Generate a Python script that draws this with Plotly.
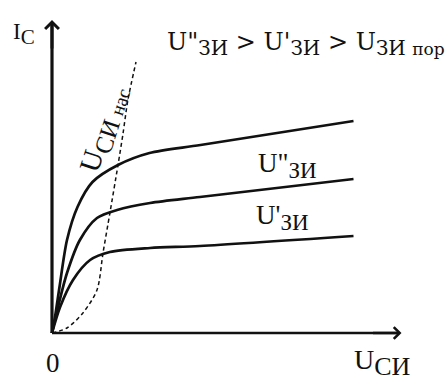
import plotly.graph_objects as go

# ---- data (U_СИ in arbitrary units, I_С in arbitrary units) ----
u_top = [0, 0.1, 0.25, 0.5, 0.85, 1.35, 2.2, 3.25, 4.95, 10.05]
i_top = [0, 0.8, 2.3, 4.65, 6.3, 7.55, 8.4, 9.0, 9.4, 10.6]

u_mid = [0, 0.2, 0.5, 0.93, 1.5, 2.17, 3.27, 4.93, 10.05]
i_mid = [0, 1.3, 3.0, 4.65, 5.75, 6.15, 6.5, 6.8, 7.7]

u_low = [0, 0.27, 0.7, 1.27, 1.93, 3.27, 4.93, 10.05]
i_low = [0, 1.3, 2.65, 3.65, 4.05, 4.25, 4.35, 4.85]

u_sat = [0, 0.5, 1.03, 1.5, 1.7, 1.93, 2.2, 2.37, 2.53, 2.8]
i_sat = [0, 0.25, 1.0, 2.15, 4.0, 6.0, 8.4, 10.0, 11.65, 13.55]

AXIS_X_END = 11.65
AXIS_Y_END = 15.65

FONT = "Liberation Serif"
TITLE_FONT = "DejaVu Serif"
BLACK = "#111111"

fig = go.Figure()
for u, i in [(u_top, i_top), (u_mid, i_mid), (u_low, i_low)]:
    fig.add_trace(go.Scatter(x=u, y=i, mode="lines",
                             line=dict(color=BLACK, width=2.7, shape="spline", smoothing=0.8),
                             hoverinfo="skip", showlegend=False))
fig.add_trace(go.Scatter(x=u_sat, y=i_sat, mode="lines",
                         line=dict(color=BLACK, width=1.5, dash="4px,3px", shape="spline", smoothing=0.8),
                         hoverinfo="skip", showlegend=False))

# axes lines
fig.add_shape(type="line", x0=0, y0=0, x1=AXIS_X_END - 0.1, y1=0, line=dict(color=BLACK, width=2.6))
fig.add_shape(type="line", x0=0, y0=0, x1=0, y1=AXIS_Y_END - 0.2, line=dict(color=BLACK, width=3.2))
fig.add_annotation(x=AXIS_X_END, y=0, ax=AXIS_X_END - 1, ay=0, axref="x", ayref="y",
                   text="", showarrow=True, arrowhead=4, arrowsize=0.95, arrowwidth=2.4,
                   arrowcolor=BLACK, standoff=0)
fig.add_annotation(x=0, y=AXIS_Y_END, ax=0, ay=AXIS_Y_END - 1.5, axref="x", ayref="y",
                   text="", showarrow=True, arrowhead=4, arrowsize=0.95, arrowwidth=2.8,
                   arrowcolor=BLACK, standoff=0)

def label(text, x, y, size, xanchor="left", yanchor="middle", angle=0, family=FONT):
    fig.add_annotation(x=x, y=y, text=text, showarrow=False, xanchor=xanchor, yanchor=yanchor,
                       textangle=angle, font=dict(family=family, size=size, color=BLACK))

def sub(t, size):
    return f"<sub><span style='font-size:{size}px'>{t}</span></sub>"

SP = " "
label("I" + sub("С", 21), -1.37, 14.95, 23)
label("0", 0.03, -1.5, 27, xanchor="center")
label("U" + sub("СИ", 26), 10.0, -1.45, 28)
label("U\"" + sub("ЗИ", 20) + SP + "&gt;" + SP + "U'" + sub("ЗИ", 20) + SP + "&gt;" + SP + "U"
      + sub("ЗИ <span style='font-size:17px'>пор</span>", 20),
      3.77, 14.45, 24, family=TITLE_FONT)
label("U\"" + sub("ЗИ", 23), 6.8, 8.4, 27)
label("U'" + sub("ЗИ", 23), 6.73, 5.8, 27)
label("U" + sub("СИ <span style='font-size:19px'>нас</span>", 25), 1.72, 10.2, 29,
      xanchor="center", angle=-72)

fig.update_layout(
    width=448, height=382, margin=dict(l=0, r=0, t=0, b=0),
    plot_bgcolor="white", paper_bgcolor="white",
    xaxis=dict(range=[-52 / 30, 396 / 30], visible=False, fixedrange=True),
    yaxis=dict(range=[-49 / 20, 333 / 20], visible=False, fixedrange=True),
)
fig.write_html("out.html", config={"displayModeBar": False},
               post_script="document.body.style.margin='0';")
